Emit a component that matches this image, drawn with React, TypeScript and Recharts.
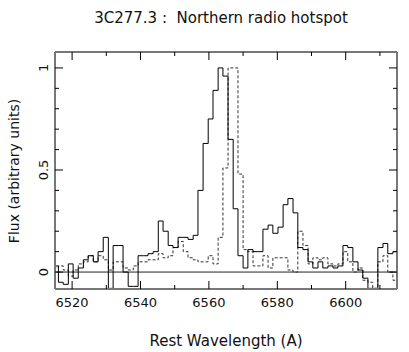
import { Line, LineChart, ReferenceLine, XAxis, YAxis } from "recharts";

// bin edges (Angstrom) of the spectrum, last entry closes the final step
const wavelengths = [
  6514.5, 6516.0, 6517.4, 6518.9, 6520.3, 6521.8, 6523.3, 6524.7, 6526.2, 6527.6,
  6529.1, 6530.6, 6532.0, 6533.5, 6534.9, 6536.4, 6537.9, 6539.3, 6540.8, 6542.2,
  6543.7, 6545.2, 6546.6, 6548.1, 6549.5, 6551.0, 6552.5, 6553.9, 6555.4, 6556.8,
  6558.3, 6559.8, 6561.2, 6562.7, 6564.1, 6565.6, 6567.1, 6568.5, 6570.0, 6571.4,
  6572.9, 6574.4, 6575.8, 6577.3, 6578.7, 6580.2, 6581.7, 6583.1, 6584.6, 6586.0,
  6587.5, 6589.0, 6590.4, 6591.9, 6593.3, 6594.8, 6596.3, 6597.7, 6599.2, 6600.6,
  6602.1, 6603.6, 6605.0, 6606.5, 6607.9, 6609.4, 6610.9, 6612.3, 6613.8, 6615.2,
];

// hotspot spectrum (solid)
const hotspotFlux = [
  0.03, -0.05, -0.06, 0.04, -0.03, 0.02, 0.06, 0.08, 0.05, 0.1,
  0.17, -0.08, 0.13, 0.13, 0.0, -0.07, -0.07, 0.08, 0.08, 0.09,
  0.1, 0.25, 0.2, 0.13, 0.12, 0.17, 0.17, 0.16, 0.18, 0.4,
  0.63, 0.75, 0.89, 1.0, 0.96, 0.65, 0.31, 0.08, 0.02, 0.11,
  0.1, 0.1, 0.21, 0.23, 0.19, 0.22, 0.33, 0.36, 0.29, 0.12,
  0.11, 0.05, 0.02, 0.05, 0.02, 0.03, 0.02, 0.03, 0.13, 0.12,
  0.05, 0.01, -0.03, -0.08, -0.08, 0.12, 0.14, 0.09, 0.1,
];

// comparison spectrum (dashed)
const compareFlux = [
  0.02, 0.03, 0.01, -0.02, 0.01, 0.04, 0.05, 0.08, 0.05, 0.08,
  0.06, 0.01, 0.05, 0.05, 0.02, 0.01, 0.03, 0.05, 0.05, 0.06,
  0.06, 0.09, 0.07, 0.08, 0.12, 0.15, 0.1, 0.07, 0.06, 0.05,
  0.05, 0.08, 0.04, 0.17, 0.51, 1.0, 1.0, 0.48, 0.11, 0.1,
  0.03, 0.03, 0.08, 0.02, 0.07, 0.07, 0.07, 0.01, 0.0, 0.2,
  0.13, 0.04, 0.07, 0.06, 0.07, 0.04, 0.03, 0.04, 0.1, 0.05,
  0.0, 0.02, -0.04, -0.05, -0.08, 0.05, 0.08, 0.0, -0.04,
];

const xTicks = [6520, 6530, 6540, 6550, 6560, 6570, 6580, 6590, 6600, 6610];
const yTicks = [0, 0.1, 0.2, 0.3, 0.4, 0.5, 0.6, 0.7, 0.8, 0.9, 1];
const yLabelled = [0, 0.5, 1];

const rows = wavelengths.map((wl, i) => ({
  wl,
  hotspot: hotspotFlux[Math.min(i, hotspotFlux.length - 1)],
  compare: compareFlux[Math.min(i, compareFlux.length - 1)],
}));

const W = 409;
const H = 352;
const TOP = 52;
const BOTTOM = 289;
const LEFT = 55;
const RIGHT = 397;
const FRAME = "#777";
const FONT = "'DejaVu Sans', sans-serif";

function BottomTick({ x, payload }: any) {
  const major = payload.value % 20 === 0;
  return (
    <g>
      <line x1={x} x2={x} y1={BOTTOM} y2={BOTTOM - (major ? 8 : 4)} stroke="#000" strokeWidth={1} />
      {major && (
        <text x={x} y={307} textAnchor="middle" fontSize={13} fontFamily={FONT} fill="#111">
          {payload.value}
        </text>
      )}
    </g>
  );
}

function TopTick({ x, payload }: any) {
  const major = payload.value % 20 === 0;
  return <line x1={x} x2={x} y1={TOP} y2={TOP + (major ? 8 : 4)} stroke="#000" strokeWidth={1} />;
}

function LeftTick({ y, payload }: any) {
  const v = Math.round(payload.value * 10) / 10;
  const major = yLabelled.includes(v);
  return (
    <g>
      <line x1={LEFT} x2={LEFT + (major ? 8 : 4)} y1={y} y2={y} stroke="#000" strokeWidth={1} />
      {major && (
        <text
          x={48}
          y={y}
          transform={`rotate(-90 48 ${y})`}
          textAnchor="middle"
          fontSize={13}
          fontFamily={FONT}
          fill="#111"
        >
          {v}
        </text>
      )}
    </g>
  );
}

function RightTick({ y, payload }: any) {
  const v = Math.round(payload.value * 10) / 10;
  const major = yLabelled.includes(v);
  return <line x1={RIGHT} x2={RIGHT - (major ? 8 : 4)} y1={y} y2={y} stroke="#000" strokeWidth={1} />;
}

export default function App() {
  return (
    <div style={{ position: "absolute", left: 0, top: 0, width: W, height: H, background: "#fff" }}>
      <LineChart
        width={W}
        height={H}
        data={rows}
        margin={{ top: TOP - 1, right: W - RIGHT - 1, bottom: H - BOTTOM - 1, left: LEFT - 1 }}
      >
        <XAxis
          dataKey="wl"
          type="number"
          domain={[6515, 6615]}
          allowDataOverflow
          ticks={xTicks}
          height={1}
          tickLine={false}
          axisLine={{ stroke: FRAME, strokeWidth: 2 }}
          tick={<BottomTick />}
          interval={0}
        />
        <XAxis
          xAxisId="top"
          orientation="top"
          dataKey="wl"
          type="number"
          domain={[6515, 6615]}
          allowDataOverflow
          ticks={xTicks}
          height={1}
          tickLine={false}
          axisLine={{ stroke: FRAME, strokeWidth: 2 }}
          tick={<TopTick />}
          interval={0}
        />
        <YAxis
          type="number"
          domain={[-0.083, 1.078]}
          allowDataOverflow
          ticks={yTicks}
          width={1}
          tickLine={false}
          axisLine={{ stroke: FRAME, strokeWidth: 2 }}
          tick={<LeftTick />}
          interval={0}
        />
        <YAxis
          yAxisId="right"
          orientation="right"
          type="number"
          domain={[-0.083, 1.078]}
          allowDataOverflow
          ticks={yTicks}
          width={1}
          tickLine={false}
          axisLine={{ stroke: FRAME, strokeWidth: 2 }}
          tick={<RightTick />}
          interval={0}
        />
        <ReferenceLine y={0} stroke="#222" strokeWidth={1} />
        <Line
          dataKey="compare"
          type="stepAfter"
          stroke="#333"
          strokeWidth={1}
          strokeDasharray="3 2"
          dot={false}
          isAnimationActive={false}
        />
        <Line
          dataKey="hotspot"
          type="stepAfter"
          stroke="#000"
          strokeWidth={1}
          dot={false}
          isAnimationActive={false}
        />
      </LineChart>
      <svg width={W} height={H} style={{ position: "absolute", left: 0, top: 0, pointerEvents: "none" }}>
        <text
          x={221}
          y={23}
          textAnchor="middle"
          fontSize={15}
          fontFamily={FONT}
          fill="#111"
          style={{ whiteSpace: "pre" }}
        >
          {"3C277.3 :  Northern radio hotspot"}
        </text>
        <text x={226} y={346} textAnchor="middle" fontSize={15} fontFamily={FONT} fill="#111">
          Rest Wavelength (A)
        </text>
        <text
          x={19}
          y={171}
          transform="rotate(-90 19 171)"
          textAnchor="middle"
          fontSize={14}
          fontFamily={FONT}
          fill="#111"
        >
          Flux (arbitrary units)
        </text>
      </svg>
    </div>
  );
}
